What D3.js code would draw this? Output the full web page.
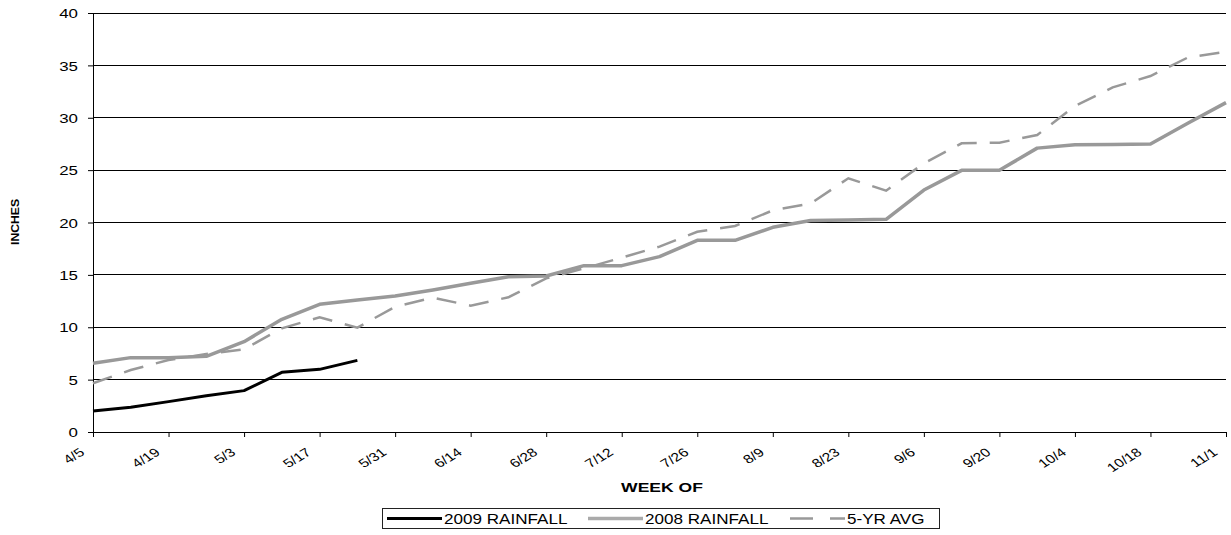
<!DOCTYPE html>
<html>
<head>
<meta charset="UTF-8">
<title>rainfall</title>
<script src="https://cdn.jsdelivr.net/npm/d3@7/dist/d3.min.js"></script>
<style>
  body { margin: 0; background: #fff; }
  text { font-family: "Liberation Sans", Arial, sans-serif; fill: #000; }
</style>
</head>
<body>
<svg width="1231" height="535"></svg>
<script>
// weeks (x categories)
var weeks = ["4/5","4/12","4/19","4/26","5/3","5/10","5/17","5/24","5/31","6/7","6/14","6/21",
  "6/28","7/5","7/12","7/19","7/26","8/2","8/9","8/16","8/23","8/30","9/6","9/13","9/20",
  "9/27","10/4","10/11","10/18","10/25","11/1"];
var rain2009 = [2.0, 2.36, 2.9, 3.47, 3.95, 5.7, 5.98, 6.84];
var rain2008 = [6.56, 7.1, 7.1, 7.22, 8.62, 10.76, 12.19, 12.6, 12.98, 13.56, 14.2, 14.83,
  14.89, 15.88, 15.88, 16.74, 18.3, 18.3, 19.54, 20.2, 20.24, 20.3, 23.1, 24.98, 24.98,
  27.1, 27.43, 27.45, 27.49, 29.5, 31.44];
var avg5 = [4.65, 5.92, 6.87, 7.45, 7.9, 9.9, 10.95, 9.96, 11.96, 12.82, 12.06, 12.86,
  14.67, 15.62, 16.64, 17.7, 19.12, 19.67, 21.16, 21.8, 24.22, 23.04, 25.65, 27.56, 27.62,
  28.35, 31.12, 32.9, 33.98, 35.77, 36.3];
var yTicks = [0, 5, 10, 15, 20, 25, 30, 35, 40];
var seriesNames = ["2009 RAINFALL", "2008 RAINFALL", "5-YR AVG"];

var svg = d3.select("svg");
var sx = 1.3; // the original picture is stretched sideways
var plotL = 93, plotR = 1226, plotT = 13, plotB = 432;

var x = d3.scalePoint().domain(weeks).range([plotL, plotR]);
var y = d3.scaleLinear().domain([0, 40]).range([plotB, plotT]);

// grid
svg.append("g").selectAll("line")
  .data(yTicks.filter(function(d){ return d > 0; }))
  .enter().append("line")
  .attr("x1", plotL).attr("x2", plotR)
  .attr("y1", function(d){ return y(d); })
  .attr("y2", function(d){ return y(d); })
  .attr("stroke", "#000").attr("stroke-width", 1)
  .attr("shape-rendering", "crispEdges");

// y axis
var gy = svg.append("g").attr("transform", "translate(" + plotL + ",0)")
  .call(d3.axisLeft(y).tickValues(yTicks).tickSize(5).tickSizeOuter(0));
gy.select(".domain").attr("stroke", "#000");
gy.selectAll(".tick line").attr("stroke", "#000");
gy.selectAll(".tick text")
  .attr("x", -15 / sx).attr("dy", "0.36em")
  .attr("transform", "scale(" + sx + ",1)")
  .style("font-size", "13px").style("font-family", "'Liberation Sans', Arial, sans-serif");

// x axis
var labelWeeks = weeks.filter(function(d, i){ return i % 2 === 0; });
var gx = svg.append("g").attr("transform", "translate(0," + plotB + ")")
  .call(d3.axisBottom(x).tickValues(labelWeeks).tickSize(5).tickSizeOuter(0));
gx.select(".domain").attr("stroke", "#000");
gx.selectAll(".tick line").attr("stroke", "#000");
gx.selectAll(".tick text").remove();
gx.selectAll(".tick").append("text")
  .attr("text-anchor", "end")
  .attr("transform", "translate(-8,22) scale(" + sx + ",1) rotate(-38)")
  .style("font-size", "12px")
  .text(function(d){ return d; });

// lines
var line = d3.line()
  .x(function(d, i){ return x(weeks[i]); })
  .y(function(d){ return y(d); });

svg.append("path").datum(avg5)
  .attr("d", line).attr("fill", "none")
  .attr("stroke", "#999").attr("stroke-width", 2.5)
  .attr("stroke-dasharray", "20,13");
svg.append("path").datum(rain2008)
  .attr("d", line).attr("fill", "none")
  .attr("stroke", "#999").attr("stroke-width", 3.5)
  .attr("stroke-linejoin", "round");
svg.append("path").datum(rain2009)
  .attr("d", line).attr("fill", "none")
  .attr("stroke", "#000").attr("stroke-width", 3)
  .attr("stroke-linejoin", "round");

// axis titles
svg.append("text")
  .attr("transform", "translate(19,222) rotate(-90)")
  .attr("text-anchor", "middle")
  .attr("textLength", 46).attr("lengthAdjust", "spacingAndGlyphs")
  .style("font-size", "11px").style("font-weight", "bold")
  .text("INCHES");

svg.append("text")
  .attr("transform", "translate(662,492) scale(" + sx + ",1)")
  .attr("text-anchor", "middle")
  .style("font-size", "13.5px").style("font-weight", "bold")
  .text("WEEK OF");

// legend
var lg = svg.append("g");
lg.append("rect")
  .attr("x", 382.5).attr("y", 508.5).attr("width", 557).attr("height", 20)
  .attr("fill", "#fff").attr("stroke", "#222");
var legendX = [387, 588, 790];
var legendStyle = [
  {stroke: "#000", w: 3, dash: null},
  {stroke: "#aaa", w: 3.5, dash: null},
  {stroke: "#999", w: 2.5, dash: "23,17"}
];
seriesNames.forEach(function(name, i){
  var st = legendStyle[i];
  var l = lg.append("line")
    .attr("x1", legendX[i]).attr("x2", legendX[i] + 55)
    .attr("y1", 518.5).attr("y2", 518.5)
    .attr("stroke", st.stroke).attr("stroke-width", st.w);
  if (st.dash) l.attr("stroke-dasharray", st.dash);
  lg.append("text")
    .attr("transform", "translate(" + (legendX[i] + 57) + ",523.5) scale(1.22,1)")
    .style("font-size", "14px")
    .text(name);
});
</script>
</body>
</html>
